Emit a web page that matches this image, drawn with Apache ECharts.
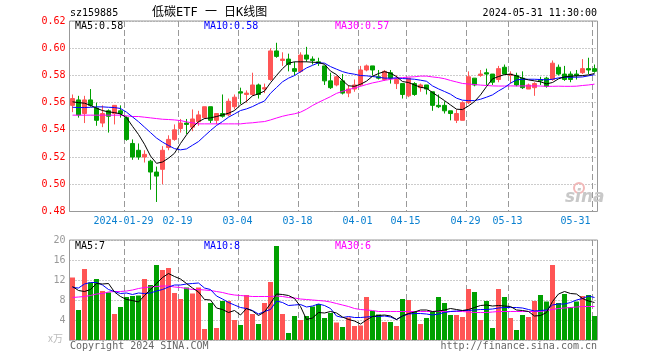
<!DOCTYPE html>
<html><head><meta charset="utf-8">
<script src="https://cdn.jsdelivr.net/npm/echarts@6/dist/echarts.min.js"></script>
<style>html,body{margin:0;padding:0;background:#fff}#c{width:660px;height:360px}</style>
</head><body><div id="c"></div>
<script>
const dates = ['2024-01-16','2024-01-17','2024-01-18','2024-01-19','2024-01-22','2024-01-23','2024-01-24','2024-01-25','2024-01-26','2024-01-29','2024-01-30','2024-01-31',
'2024-02-01','2024-02-02','2024-02-05','2024-02-06','2024-02-07','2024-02-08','2024-02-19','2024-02-20','2024-02-21','2024-02-22','2024-02-23','2024-02-26','2024-02-27','2024-02-28','2024-02-29',
'2024-03-01','2024-03-04','2024-03-05','2024-03-06','2024-03-07','2024-03-08','2024-03-11','2024-03-12','2024-03-13','2024-03-14','2024-03-15','2024-03-18','2024-03-19','2024-03-20','2024-03-21','2024-03-22','2024-03-25','2024-03-26','2024-03-27','2024-03-28','2024-03-29',
'2024-04-01','2024-04-02','2024-04-03','2024-04-08','2024-04-09','2024-04-10','2024-04-11','2024-04-12','2024-04-15','2024-04-16','2024-04-17','2024-04-18','2024-04-19','2024-04-22','2024-04-23','2024-04-24','2024-04-25','2024-04-26','2024-04-29','2024-04-30',
'2024-05-06','2024-05-07','2024-05-08','2024-05-09','2024-05-10','2024-05-13','2024-05-14','2024-05-15','2024-05-16','2024-05-17','2024-05-20','2024-05-21','2024-05-22','2024-05-23','2024-05-24','2024-05-27','2024-05-28','2024-05-29','2024-05-30','2024-05-31'];

const tickLabels = ['2024-01-29','02-19','03-04','03-18','04-01','04-15','04-29','05-13','05-31'];

const open = [.558,.562,.552,.562,.556,.545,.554,.552,.554,.549,.530,.525,.520,.517,.509,.511,.527,.533,.541,.545,
.542,.546,.549,.557,.547,.552,.551,.557,.568,.566,.566,.573,.570,.577,.598,.591,.592,.585,.583,.595,
.592,.590,.587,.576,.573,.576,.567,.570,.573,.584,.587,.579,.577,.582,.574,.574,.565,.574,.571,.573,
.568,.558,.558,.554,.547,.547,.560,.578,.580,.582,.581,.577,.586,.580,.580,.578,.570,.571,.577,.578,
.577,.586,.581,.581,.581,.582,.585,.585];
const close = [.563,.551,.562,.558,.547,.552,.550,.558,.552,.533,.520,.520,.522,.509,.506,.525,.533,.540,.545,.544,
.548,.551,.557,.547,.552,.550,.561,.564,.567,.567,.573,.566,.571,.598,.594,.592,.588,.583,.595,.592,
.591,.589,.576,.571,.579,.567,.570,.573,.584,.587,.584,.578,.583,.578,.577,.566,.578,.566,.573,.570,
.558,.557,.554,.552,.552,.560,.579,.573,.581,.581,.575,.585,.581,.581,.573,.571,.573,.574,.576,.572,
.589,.581,.577,.577,.580,.585,.584,.583];
const high = [.566,.565,.565,.570,.560,.558,.555,.558,.558,.550,.533,.530,.525,.518,.513,.528,.536,.544,.548,.548,
.555,.554,.557,.557,.552,.566,.563,.566,.571,.569,.582,.574,.574,.600,.604,.597,.596,.590,.597,.601,
.594,.593,.587,.582,.580,.581,.573,.577,.587,.588,.587,.584,.584,.584,.580,.574,.578,.575,.574,.573,
.568,.566,.561,.554,.555,.561,.583,.578,.584,.585,.581,.587,.588,.583,.582,.583,.574,.575,.579,.579,
.591,.588,.587,.583,.584,.592,.593,.588];
const low = [.553,.549,.545,.557,.543,.542,.538,.544,.549,.532,.518,.518,.516,.496,.487,.500,.525,.532,.538,.537,
.539,.543,.548,.545,.544,.549,.550,.555,.559,.560,.565,.563,.567,.576,.593,.587,.583,.580,.582,.590,
.588,.587,.573,.570,.572,.566,.564,.568,.572,.583,.580,.577,.576,.574,.570,.563,.564,.565,.568,.566,
.554,.556,.552,.547,.545,.547,.559,.572,.579,.573,.573,.575,.581,.574,.572,.570,.570,.565,.573,.571,
.576,.580,.576,.575,.577,.581,.581,.582];

const ma5 = [.5606,.560,.5596,.558,.5559,.5542,.5532,.5527,.5517,.549,.5426,.5366,.5294,.5208,.5154,.5164,.5192,.5228,.530,.5363,
.5419,.546,.5483,.5488,.5498,.551,.5522,.5542,.5582,.561,.565,.5665,.5685,.5746,.580,.585,.589,.590,.590,.590,
.5897,.5895,.5882,.5832,.5806,.5763,.5724,.572,.5735,.5758,.5794,.5814,.5828,.5816,.5792,.5755,.5748,.573,.5713,.5706,
.5674,.5645,.5615,.5583,.5552,.5549,.5576,.5608,.5657,.5718,.5775,.5792,.5806,.5809,.5797,.5779,.5767,.576,.5753,.5738,
.5748,.5775,.5789,.5794,.5797,.5799,.5804,.5814];
const ma10 = [.5566,.5564,.5564,.5566,.5569,.5569,.5566,.5564,.5557,.553,.5495,.546,.542,.538,.534,.531,.5285,.5262,.5253,.526,
.5287,.5314,.5355,.5395,.5432,.5461,.5493,.5517,.5542,.5554,.5571,.5593,.5612,.5669,.5711,.5753,.578,.5799,.5827,.5855,
.5874,.5893,.589,.5865,.5846,.5828,.5816,.5809,.5799,.5797,.5792,.5787,.578,.578,.5782,.5777,.5775,.5772,.5765,.5757,
.5723,.5701,.5682,.5662,.5633,.5618,.5615,.5615,.5625,.564,.5657,.5686,.5711,.5743,.5767,.5772,.5772,.5772,.577,.5767,
.5772,.5782,.5787,.5787,.5787,.5789,.5797,.5806];
const ma30 = [.5508,.5508,.5508,.5508,.5508,.5508,.5508,.5508,.5508,.5503,.5498,.5498,.5493,.5488,.5483,.5478,.5476,.5473,.5468,.5459,
.5451,.5444,.5444,.5444,.5444,.5444,.5444,.5444,.5444,.5449,.5452,.5457,.5461,.5473,.5487,.5500,.5510,.5518,.5530,.5552,
.5579,.5602,.5623,.5644,.5668,.5683,.5696,.5708,.5720,.5733,.5745,.5754,.5764,.5771,.5779,.5784,.5788,.5790,.5795,.5795,
.5789,.5784,.5776,.5763,.5752,.5741,.5737,.5733,.5729,.5726,.5723,.5722,.5722,.5723,.5722,.5723,.5723,.5723,.5722,.5720,
.5720,.5721,.5720,.5720,.5721,.5726,.5730,.5736];

const volume = [12.5,6.0,14.2,11.5,12.2,9.8,9.5,5.2,6.6,8.6,8.8,8.9,12.2,11.0,15.0,14.0,14.4,9.4,8.2,10.5,
9.3,10.5,2.2,7.4,2.4,7.8,7.8,4.0,3.0,9.0,5.2,3.2,7.4,11.6,18.8,5.2,1.4,4.8,4.0,4.8,
6.7,7.2,4.4,5.4,3.5,2.6,4.5,2.8,2.9,8.6,5.8,5.1,3.6,3.6,2.8,8.2,8.0,5.8,3.2,4.4,
5.7,8.6,7.4,5.0,5.0,4.6,10.2,9.6,4.0,7.8,2.4,10.2,8.6,4.4,2.0,5.0,4.6,7.8,9.0,7.7,
15.0,7.4,9.2,6.6,7.7,8.8,9.0,4.8];
const vma5 = [10.7,9.9,9.7,10.1,11.3,11.2,11.3,9.6,8.7,8.1,7.9,7.6,8.9,10.1,11.3,12.5,13.3,12.7,12.2,11.3,
10.4,9.6,8.1,8.0,6.4,6.1,5.5,5.9,5.0,6.3,5.8,4.9,5.6,7.3,9.2,9.1,8.9,8.3,6.7,4.1,
4.4,5.5,5.4,5.7,5.4,4.6,4.1,3.8,3.2,4.0,4.7,4.9,5.0,4.8,4.1,4.8,5.3,5.6,6.0,6.0,
5.7,5.8,6.0,6.3,6.1,5.9,6.1,6.5,6.9,7.0,6.8,6.9,6.8,6.7,6.0,5.9,5.7,4.8,4.9,5.5,
7.7,9.2,9.7,9.3,9.2,8.3,7.8,7.5];
const vma10 = [10.5,10.4,11.2,11.5,11.5,11.0,10.1,9.7,9.3,9.4,9.1,9.4,9.3,9.4,9.8,10.1,10.6,11.0,11.0,11.2,
11.3,11.4,10.4,10.1,8.8,8.2,7.5,7.0,6.5,6.3,5.9,5.2,5.7,6.1,7.8,7.5,6.9,7.0,7.1,6.6,
6.8,7.2,6.9,6.3,4.8,4.5,4.7,4.5,4.5,4.6,4.7,4.7,4.8,4.6,4.1,4.8,5.2,5.3,5.3,5.2,
5.0,5.2,5.5,5.7,5.8,5.9,5.9,6.0,6.1,6.1,6.2,6.4,6.5,6.5,6.5,6.4,6.1,5.8,5.9,6.0,
7.0,7.2,7.2,7.5,8.0,8.3,8.8,8.5];
const vma30 = [8.5,8.6,8.7,8.9,9.2,9.3,9.6,9.7,9.7,9.8,10.0,10.3,10.5,10.6,10.7,10.8,10.8,10.6,10.5,10.3,
10.1,10.1,10.0,9.9,9.7,9.5,9.2,9.0,8.9,8.8,8.7,8.7,8.7,8.7,8.8,8.7,8.5,8.4,8.2,8.1,
8.0,7.9,7.8,7.6,7.3,7.0,6.7,6.3,6.1,6.0,5.9,5.7,5.7,5.7,5.7,5.7,5.7,5.7,5.7,5.7,
5.7,5.7,5.7,5.7,5.7,5.7,5.6,5.5,5.5,5.5,5.6,5.7,5.7,5.7,5.7,5.7,5.7,5.7,5.7,5.9,
6.1,6.3,6.4,6.5,6.6,6.7,6.7,6.7];

const UP = '#ff5555', DOWN = '#00a000';
const MONO = '"DejaVu Sans Mono", monospace';
const tickIdx = tickLabels.map(t => dates.findIndex(d => d.endsWith(t)));
const last = dates.length - 1;
const isTick = (i) => tickIdx.indexOf(i) >= 0;

const GRID_LEFT = 69.5, GRID_W = 528;
const PANES = [{top: 21, height: 190.5}, {top: 240, height: 100}];
const hSplit = {show: true, lineStyle: {color: '#999', type: [1, 2], width: 1}};

function txt(x, y, text, fill, opts) {
  return Object.assign({type: 'text', x: x, y: y, silent: true, z: 100,
    style: Object.assign({text: text, fill: fill, font: '10px ' + MONO, verticalAlign: 'middle', align: 'left'}, opts || {})});
}

const chart = echarts.init(document.getElementById('c'));
chart.setOption({
  animation: false,
  grid: PANES.map(p => ({left: GRID_LEFT, width: GRID_W, top: p.top, height: p.height, show: true, borderColor: '#999', borderWidth: 1})),
  xAxis: [
    {type: 'category', gridIndex: 0, data: dates, boundaryGap: true,
     axisLine: {show: false}, axisTick: {show: false}, splitLine: {show: false},
     axisLabel: {interval: isTick, color: '#0a80d0', fontFamily: MONO, fontSize: 10, margin: 5, padding: [0, 6, 0, 0],
       formatter: (v, i) => i === tickIdx[0] ? v : (i === last ? '{end|' + v.slice(5) + '}' : v.slice(5)),
       rich: {end: {color: '#0a80d0', fontFamily: MONO, fontSize: 10, padding: [0, 32, 0, 0]}}}},
    {type: 'category', gridIndex: 1, data: dates, boundaryGap: true,
     axisLine: {show: false}, axisTick: {show: false}, axisLabel: {show: false}, splitLine: {show: false}}
  ],
  yAxis: [
    {type: 'value', gridIndex: 0, min: 0.48, max: 0.62, interval: 0.02,
     axisLine: {show: false}, axisTick: {show: false},
     axisLabel: {color: '#f00', fontFamily: MONO, fontSize: 10, margin: 4, formatter: v => v.toFixed(2)},
     splitLine: hSplit},
    {type: 'value', gridIndex: 1, min: 0, max: 20, interval: 4,
     axisLine: {show: false}, axisTick: {show: false},
     axisLabel: {color: '#999', fontFamily: MONO, fontSize: 10, margin: 4, formatter: v => v === 0 ? '' : String(v)},
     splitLine: hSplit}
  ],
  series: [
    {type: 'candlestick', xAxisIndex: 0, yAxisIndex: 0, barWidth: 4, silent: true, z: 2,
     data: dates.map((d, i) => [open[i], close[i], low[i], high[i]]),
     itemStyle: {color: UP, color0: DOWN, borderColor: UP, borderColor0: DOWN, borderWidth: 1}},
    {type: 'line', xAxisIndex: 0, yAxisIndex: 0, data: ma30, symbol: 'none', silent: true, z: 3, lineStyle: {color: '#ff00ff', width: 1}},
    {type: 'line', xAxisIndex: 0, yAxisIndex: 0, data: ma10, symbol: 'none', silent: true, z: 3, lineStyle: {color: '#0000ff', width: 1}},
    {type: 'line', xAxisIndex: 0, yAxisIndex: 0, data: ma5, symbol: 'none', silent: true, z: 3, lineStyle: {color: '#000', width: 1}},
    {type: 'bar', xAxisIndex: 1, yAxisIndex: 1, barWidth: 5, silent: true, z: 2,
     data: volume.map((v, i) => ({value: v, itemStyle: {color: close[i] >= open[i] ? UP : DOWN}}))},
    {type: 'line', xAxisIndex: 1, yAxisIndex: 1, data: vma30, symbol: 'none', silent: true, z: 3, lineStyle: {color: '#ff00ff', width: 1}},
    {type: 'line', xAxisIndex: 1, yAxisIndex: 1, data: vma10, symbol: 'none', silent: true, z: 3, lineStyle: {color: '#0000ff', width: 1}},
    {type: 'line', xAxisIndex: 1, yAxisIndex: 1, data: vma5, symbol: 'none', silent: true, z: 3, lineStyle: {color: '#000', width: 1}}
  ]
});

const texts = [
  txt(70, 13, 'sz159885', '#000'),
  txt(152, 13, '低碳ETF 一 日K线图', '#000', {font: '12px "DejaVu Sans Mono", "Noto Sans CJK SC"'}),
  txt(597, 13, '2024-05-31 11:30:00', '#000', {align: 'right'}),
  txt(75, 26, 'MA5:' + ma5[last].toFixed(2), '#000'),
  txt(204, 26, 'MA10:' + ma10[last].toFixed(2), '#0000ff'),
  txt(335, 26, 'MA30:' + ma30[last].toFixed(2), '#ff00ff'),
  txt(75, 246, 'MA5:' + Math.floor(vma5[last]), '#000'),
  txt(204, 246, 'MA10:' + Math.floor(vma10[last]), '#0000ff'),
  txt(335, 246, 'MA30:' + Math.floor(vma30[last]), '#ff00ff'),
  txt(48, 338, 'x万', '#bbb', {font: '10px "Noto Sans CJK SC"'}),
  txt(70, 346, 'Copyright 2024 SINA.COM', '#666'),
  txt(597, 346, 'http://finance.sina.com.cn', '#666', {align: 'right'}),
  {type: 'circle', silent: true, shape: {cx: 579, cy: 188, r: 5}, style: {fill: 'none', stroke: '#f2b8b8', lineWidth: 2}},
  txt(565, 198, 'sina', '#c8c8c8', {font: 'italic bold 17px "DejaVu Sans"'})
];

// vertical dashed separators at the left edge of each labelled date's band, located via the series' own axes
function px(seriesIndex, pt) {
  let r = null;
  try { r = chart.convertToPixel({seriesIndex: seriesIndex}, pt); } catch (e) { r = null; }
  return r;
}
const lines = [];
[{s: 0, top: 0.62, bottom: 0.48, pane: 0}, {s: 4, top: 20, bottom: 0, pane: 1}].forEach(p => {
  const band = GRID_W / dates.length;
  let y1 = PANES[p.pane].top, y2 = PANES[p.pane].top + PANES[p.pane].height;
  const a = px(p.s, [0, p.top]), b = px(p.s, [0, p.bottom]);
  if (a && isFinite(a[1]) && b && isFinite(b[1])) { y1 = a[1]; y2 = b[1]; }
  tickIdx.forEach(i => {
    const c = px(p.s, [i, p.top]);
    const cx = (c && isFinite(c[0])) ? c[0] : GRID_LEFT + band * (i + 0.5);
    const x = Math.floor(cx - band / 2) + 1.5;
    lines.push({type: 'line', z: 1,
      shape: {x1: x, y1: y1, x2: x, y2: y2},
      style: {stroke: '#999999', lineWidth: 1, lineDash: [6, 3]}});
  });
});
chart.setOption({graphic: {elements: lines.concat(texts)}});
</script>
</body></html>
